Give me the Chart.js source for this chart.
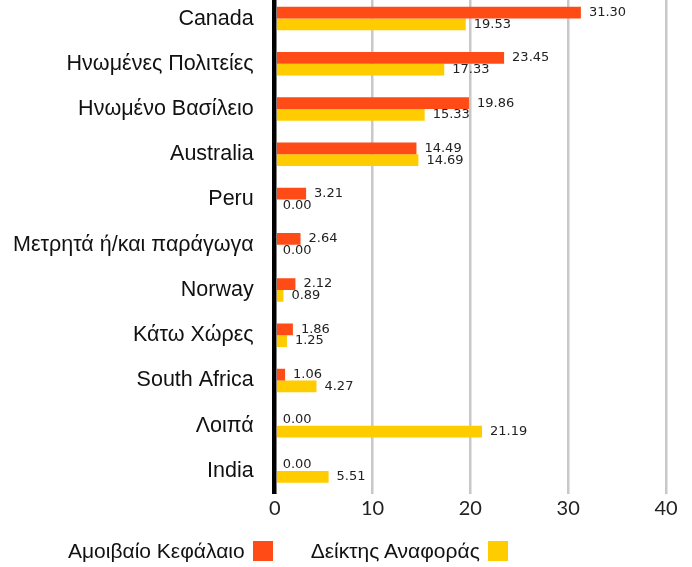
<!DOCTYPE html>
<html lang="el">
<head>
    <meta charset="UTF-8">
    <title>Κατανομή ανά χώρα</title>
    <script src="https://cdn.jsdelivr.net/npm/chart.js"></script>
    <style>
        body { margin: 0; background: #fff; }
        #wrap { position: relative; width: 692px; height: 567px; overflow: hidden; }
        #box { position: absolute; left: 0; top: -4px; width: 692px; height: 571px; }
        #legend { position: absolute; left: 68px; top: 541px; height: 20px; font: 21px "Liberation Sans", Arial, sans-serif; color: #111; display: flex; align-items: center; }
        .item { display: flex; align-items: center; margin-right: 38px; }
        .box { display: inline-block; width: 20px; height: 20px; margin-left: 8px; }
    </style>
</head>
<body>
<div id="wrap">
    <div id="box"><canvas id="chart"></canvas></div>
    <div id="legend"></div>
</div>
<script>
    const countries = ['Canada', 'Ηνωμένες Πολιτείες', 'Ηνωμένο Βασίλειο', 'Australia', 'Peru',
        'Μετρητά ή/και παράγωγα', 'Norway', 'Κάτω Χώρες', 'South Africa', 'Λοιπά', 'India'];
    const fundValues = [31.30, 23.45, 19.86, 14.49, 3.21, 2.64, 2.12, 1.86, 1.06, 0.00, 0.00];
    const indexValues = [19.53, 17.33, 15.33, 14.69, 0.00, 0.00, 0.89, 1.25, 4.27, 21.19, 5.51];
    const seriesNames = ['Αμοιβαίο Κεφάλαιο', 'Δείκτης Αναφοράς'];
    const xTicks = [0, 10, 20, 30, 40];

    const colors = ['#ff4b16', '#ffcc00'];

    // labels at the end of each bar
    const valueLabels = {
        id: 'valueLabels',
        afterDatasetsDraw(chart) {
            const ctx = chart.ctx;
            ctx.save();
            ctx.font = '13px "DejaVu Sans", sans-serif';
            ctx.fillStyle = '#222';
            ctx.textBaseline = 'middle';
            ctx.textAlign = 'left';
            chart.data.datasets.forEach((ds, i) => {
                chart.getDatasetMeta(i).data.forEach((bar, j) => {
                    ctx.fillText(ds.data[j].toFixed(2), bar.x + 8, bar.y);
                });
            });
            ctx.restore();
        }
    };

    const chart = new Chart(document.getElementById('chart'), {
        type: 'bar',
        data: {
            labels: countries,
            datasets: [
                { label: seriesNames[0], data: fundValues, backgroundColor: colors[0] },
                { label: seriesNames[1], data: indexValues, backgroundColor: colors[1] }
            ]
        },
        options: {
            indexAxis: 'y',
            responsive: true,
            maintainAspectRatio: false,
            animation: false,
            categoryPercentage: 0.52,
            barPercentage: 1,
            layout: { padding: { top: 0, right: 26, bottom: 43.5, left: 0 } },
            plugins: {
                legend: { display: false },
                tooltip: { enabled: false }
            },
            scales: {
                x: {
                    min: 0,
                    max: 40,
                    afterBuildTicks: axis => { axis.ticks = xTicks.map(v => ({ value: v })); },
                    border: { display: false },
                    grid: {
                        color: c => c.tick && c.tick.value === 0 ? '#000' : '#c8c8c8',
                        lineWidth: c => c.tick && c.tick.value === 0 ? 4.5 : 2.5,
                        tickLength: 0
                    },
                    ticks: {
                        color: '#222',
                        font: { family: 'Lato', size: 20 },
                        padding: 3
                    }
                },
                y: {
                    border: { display: false },
                    grid: { display: false },
                    afterFit: axis => { axis.paddingTop = 0; axis.paddingBottom = 0; },
                    ticks: {
                        color: '#111',
                        font: { family: 'Liberation Sans', size: 21.5 },
                        padding: 13
                    }
                }
            }
        },
        plugins: [valueLabels]
    });

    const legend = document.getElementById('legend');
    seriesNames.forEach((name, i) => {
        const item = document.createElement('span');
        item.className = 'item';
        item.innerHTML = '<span>' + name + '</span><span class="box" style="background:' + colors[i] + '"></span>';
        legend.appendChild(item);
    });
</script>
</body>
</html>
